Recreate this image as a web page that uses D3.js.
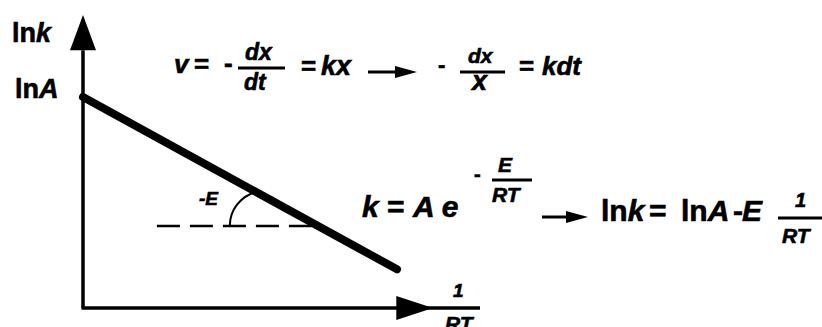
<!DOCTYPE html>
<html>
<head>
<meta charset="utf-8">
<script src="https://cdn.jsdelivr.net/npm/d3@7"></script>
<style>
  body { margin: 0; background: #fff; }
  svg text { font-family: "Liberation Sans", Arial, sans-serif; font-weight: bold; fill: #000; stroke: #000; stroke-width: 0.6px; }
  .it { font-style: italic; }
</style>
</head>
<body>
<div id="chart"></div>
<script>
'use strict';

// lnk plotted against 1/RT (arbitrary units, 0..100 on both axes)
let lineX = [0, 90.5];        // 1/RT at both ends of the Arrhenius line
let lineY = [72, 13.2];       // lnk at both ends (lnA at 1/RT = 0)
let dashY = [28, 28];         // horizontal reference line
let dashX = [21.3, 67.7];
let arcCenterX = [52.4];      // where the -E angle arc is centred (on the dashed line)

let width = 822, height = 327;

let svg = d3.select('div#chart').append('svg')
	.attr('width', width)
	.attr('height', height);

let x = d3.scaleLinear().domain([0, 100]).range([83, 430]);
let y = d3.scaleLinear().domain([0, 100]).range([308, 15]);

// axes
svg.append('line')
	.attr('x1', x(0)).attr('y1', y(0))
	.attr('x2', x(0)).attr('y2', y(88))
	.attr('stroke', '#000').attr('stroke-width', 3.5);
svg.append('path')
	.attr('d', `M${x(0)},${y(100)} L${x(0) - 13},${y(88)} L${x(0) + 13},${y(88)} Z`)
	.attr('fill', '#000');

svg.append('line')
	.attr('x1', x(0) - 1.5).attr('y1', y(0))
	.attr('x2', 480).attr('y2', y(0))
	.attr('stroke', '#000').attr('stroke-width', 3.5);
svg.append('path')
	.attr('d', `M${x(100) + 3},${y(0)} L${x(90) + 1},${y(0) - 12} L${x(90) + 1},${y(0) + 12} Z`)
	.attr('fill', '#000');

// dashed reference line
svg.append('line')
	.attr('x1', x(dashX[0])).attr('y1', y(dashY[0]))
	.attr('x2', x(dashX[1])).attr('y2', y(dashY[1]))
	.attr('stroke', '#000').attr('stroke-width', 2.5)
	.attr('stroke-dasharray', '23,10');

// the straight line lnk = lnA - E/RT
let line = d3.line().x(d => x(d[0])).y(d => y(d[1]));
svg.append('path')
	.attr('d', line(d3.zip(lineX, lineY)))
	.attr('stroke', '#000').attr('stroke-width', 8)
	.attr('stroke-linecap', 'round')
	.attr('fill', 'none');

// angle arc between dashed line and the sloped line
let cx = x(arcCenterX[0]), cy = y(dashY[0]), r = 35;
let px0 = x(lineX[0]), py0 = y(lineY[0]);
let m = (y(lineY[1]) - py0) / (x(lineX[1]) - px0);
// intersect circle with the line, take the left-hand root
let b0 = py0 - m * px0 - cy;
let qa = 1 + m * m, qb = 2 * (m * b0 - cx), qc = cx * cx + b0 * b0 - r * r;
let ix = (-qb - Math.sqrt(qb * qb - 4 * qa * qc)) / (2 * qa);
let iy = m * ix + b0 + cy;
let arcPath = d3.path();
arcPath.arc(cx, cy, r, Math.PI, Math.atan2(iy - cy, ix - cx) + 2 * Math.PI);
svg.append('path')
	.attr('d', arcPath.toString())
	.attr('stroke', '#000').attr('stroke-width', 2)
	.attr('fill', 'none');

// text helpers
function txt(xp, yp, size, parts) {
	let t = svg.append('text')
		.attr('x', xp).attr('y', yp)
		.attr('font-size', size);
	parts.forEach(p => {
		t.append('tspan')
			.classed('it', !!p[1])
			.text(p[0]);
	});
	return t;
}
function bar(x1, x2, yp, w) {
	svg.append('line')
		.attr('x1', x1).attr('x2', x2).attr('y1', yp).attr('y2', yp)
		.attr('stroke', '#000').attr('stroke-width', w || 3);
}
function arrow(x1, x2, yp) {
	bar(x1, x2 - 14, yp, 3);
	svg.append('path')
		.attr('d', `M${x2},${yp} L${x2 - 22},${yp - 6} L${x2 - 22},${yp + 6} Z`)
		.attr('fill', '#000');
}

// axis labels
txt(12, 42, 27, [['ln'], ['k', 1]]);
txt(15, 98, 27, [['ln'], ['A', 1]]);
txt(453, 297, 19, [['1', 1]]);
txt(445, 331, 21, [['RT', 1]]);
txt(199, 205, 19, [['-E', 1]]);

// v = - dx/dt = kx  ->  - dx/x = kdt
txt(174, 73, 26, [['v', 1]]);
txt(194, 73, 26, [['=']]);
txt(224, 72, 26, [['-']]);
bar(238, 285, 68);
txt(245, 60, 23, [['dx', 1]]);
txt(244, 90, 23, [['dt', 1]]);
txt(301, 75, 26, [['=']]);
txt(321, 75, 27, [['kx', 1]]);
arrow(368, 417, 72);
txt(438, 72, 22, [['-']]);
bar(460, 505, 72);
txt(468, 63, 21, [['dx', 1]]);
txt(472, 90, 27, [['x', 1]]);
txt(519, 75, 26, [['=']]);
txt(542, 75, 26, [['kdt', 1]]);

// k = A e^(-E/RT)  ->  lnk = lnA - E 1/RT
txt(362, 217, 30, [['k', 1], [' = '], ['A', 1], [' e', 1]]);
txt(474, 181, 20, [['-']]);
txt(498, 172, 21, [['E', 1]]);
bar(492, 532, 180);
txt(492, 202, 21, [['RT', 1]]);
arrow(542, 588, 217);
txt(601, 221, 30, [['ln'], ['k', 1]]);
txt(649, 221, 30, [['=']]);
txt(681, 221, 30, [['ln'], ['A', 1]]);
txt(733, 221, 30, [['-']]);
txt(742, 221, 30, [['E', 1]]);
txt(795, 207, 20, [['1', 1]]);
bar(778, 822, 218);
txt(782, 243, 21, [['RT', 1]]);
</script>
</body>
</html>
